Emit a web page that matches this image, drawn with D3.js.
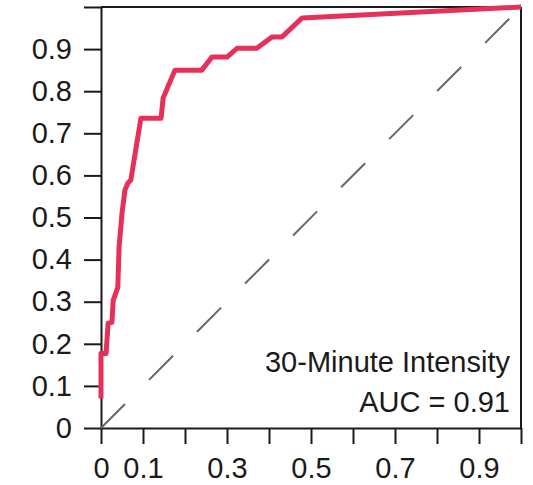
<!DOCTYPE html>
<html>
<head>
<meta charset="utf-8">
<script src="https://cdn.jsdelivr.net/npm/d3@7"></script>
<style>
  body { margin: 0; background: #fff; }
  svg text { font-family: "Liberation Sans", Arial, sans-serif; fill: #1a1a1a; }
  .axis path, .axis line { stroke: #1a1a1a; stroke-width: 2; }
</style>
</head>
<body>
<svg id="roc"></svg>
<script>
// ROC curve points (false positive rate, true positive rate)
const fpr = [0, 0, 0.012, 0.017, 0.026, 0.029, 0.040, 0.043, 0.050, 0.057, 0.064, 0.071,
             0.095, 0.143, 0.148, 0.176, 0.240, 0.264, 0.300, 0.324, 0.371, 0.407, 0.431, 0.479, 1.0];
const tpr = [0.070, 0.177, 0.177, 0.249, 0.251, 0.303, 0.334, 0.429, 0.510, 0.565, 0.582, 0.589,
             0.736, 0.736, 0.784, 0.850, 0.850, 0.881, 0.881, 0.902, 0.902, 0.929, 0.929, 0.974, 1.0];

const xTicks = [0, 0.1, 0.2, 0.3, 0.4, 0.5, 0.6, 0.7, 0.8, 0.9, 1.0];
const xTickLabels = ['0', '0.1', '', '0.3', '', '0.5', '', '0.7', '', '0.9', ''];
const yTicks = [0, 0.1, 0.2, 0.3, 0.4, 0.5, 0.6, 0.7, 0.8, 0.9, 1.0];
const yTickLabels = ['0', '0.1', '0.2', '0.3', '0.4', '0.5', '0.6', '0.7', '0.8', '0.9', ''];

const labelLines = ['30-Minute Intensity', 'AUC = 0.91'];

draw_roc_chart();

function draw_roc_chart() {
    /* Set the dimensions for the graph. */
    const margin = {top: 7, right: 12, bottom: 57, left: 101};
    const width = 533 - margin.left - margin.right;
    const height = 485 - margin.top - margin.bottom;

    const svg = d3.select('#roc')
        .attr('width', 533)
        .attr('height', 485);

    const g = svg.append('g')
        .attr('transform', 'translate(' + margin.left + ',' + margin.top + ')');

    const x = d3.scaleLinear()
        .domain([0, 1])
        .range([0, width]);

    const y = d3.scaleLinear()
        .domain([0, 1])
        .range([height, 0]);

    /* box top and right */
    g.append('line')
        .attr('x1', x(0)).attr('x2', x(1))
        .attr('y1', y(1)).attr('y2', y(1))
        .attr('stroke', '#1a1a1a').attr('stroke-width', 2);
    g.append('line')
        .attr('x1', x(1)).attr('x2', x(1))
        .attr('y1', y(1)).attr('y2', y(0))
        .attr('stroke', '#1a1a1a').attr('stroke-width', 2);

    /* axes */
    const xAxis = g.append('g')
        .attr('class', 'axis')
        .attr('transform', 'translate(0,' + height + ')')
        .call(d3.axisBottom(x)
            .tickValues(xTicks)
            .tickFormat((d, i) => xTickLabels[i])
            .tickSize(16)
            .tickSizeOuter(0)
            .tickPadding(13));
    xAxis.selectAll('text').style('font-size', '29px');

    const yAxis = g.append('g')
        .attr('class', 'axis')
        .call(d3.axisLeft(y)
            .tickValues(yTicks)
            .tickFormat((d, i) => yTickLabels[i])
            .tickSize(17)
            .tickSizeOuter(0)
            .tickPadding(12));
    yAxis.selectAll('text').style('font-size', '29px');

    /* chance diagonal */
    g.append('line')
        .attr('x1', x(0)).attr('y1', y(0))
        .attr('x2', x(1)).attr('y2', y(1))
        .attr('stroke', '#666')
        .attr('stroke-width', 2)
        .attr('stroke-dasharray', '34,34');

    /* ROC curve */
    const pts = fpr.map((f, i) => ({fpr: f, tpr: tpr[i]}));
    const line = d3.line()
        .x(d => x(d.fpr))
        .y(d => y(d.tpr));

    g.append('path')
        .datum(pts)
        .attr('fill', 'none')
        .attr('stroke', '#e5305a')
        .attr('stroke-width', 5)
        .attr('stroke-linejoin', 'round')
        .attr('d', line);

    /* label */
    g.selectAll('.roc-label')
        .data(labelLines)
        .enter().append('text')
        .attr('class', 'roc-label')
        .attr('x', width - 11)
        .attr('y', (d, i) => 365 + i * 40)
        .attr('text-anchor', 'end')
        .style('font-size', '29px')
        .text(d => d);
}
</script>
</body>
</html>
